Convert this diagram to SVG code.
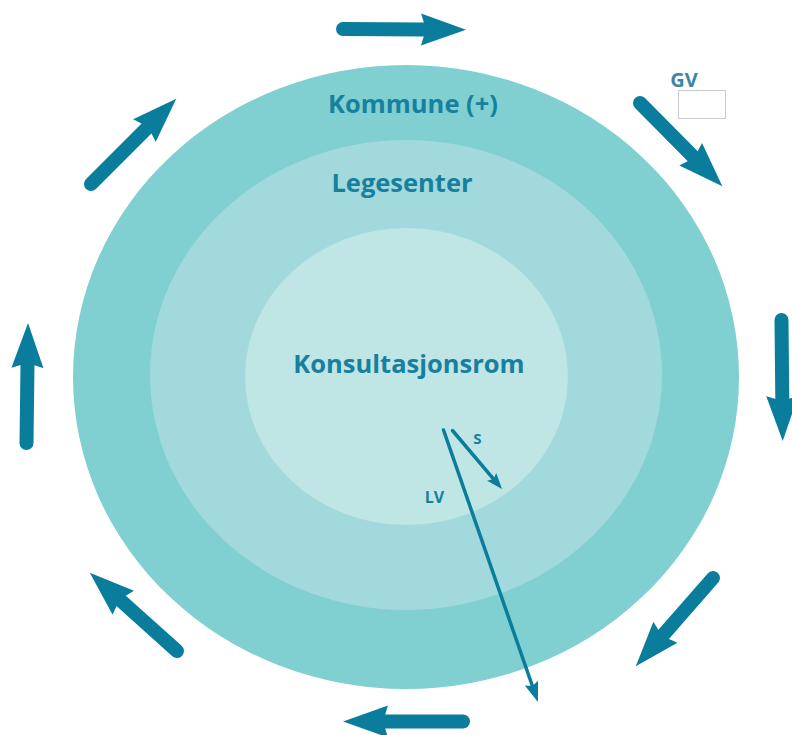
<svg xmlns="http://www.w3.org/2000/svg" width="792" height="735" viewBox="0 0 792 735">
  <style>
    .lbl { font-family: "Open Sans", "Noto Sans", sans-serif; font-weight: bold; fill: #17809f; text-anchor: middle; }
    .big { stroke: #0a7d9c; stroke-width: 14; stroke-linecap: round; fill: none; marker-end: url(#bighead); }
    .thin { stroke: #0a7d9c; stroke-width: 3.5; stroke-linecap: round; fill: none; }
  </style>
  <defs>
    <marker id="bighead" markerUnits="userSpaceOnUse" viewBox="0 -20 50 40" markerWidth="50" markerHeight="40" refX="4" refY="0" orient="auto">
      <path d="M0,-16 L45,0 L0,16 L5,0 Z" fill="#0a7d9c"/>
    </marker>
    <marker id="lvhead" markerUnits="userSpaceOnUse" viewBox="0 -10 24 20" markerWidth="24" markerHeight="20" refX="3" refY="0" orient="auto">
      <path d="M0,-7 L20,0 L0,7 L3,0 Z" fill="#0a7d9c"/>
    </marker>
    <marker id="shead" markerUnits="userSpaceOnUse" viewBox="0 -10 20 20" markerWidth="20" markerHeight="20" refX="3" refY="0" orient="auto">
      <path d="M0,-6 L16,0 L0,6 L3,0 Z" fill="#0a7d9c"/>
    </marker>
  </defs>
  <rect width="792" height="735" fill="#ffffff"/>

  <g id="kommune">
    <ellipse cx="406" cy="377" rx="333" ry="312" fill="#80cfd1"/>
    <text class="lbl" x="413" y="113" font-size="25.5">Kommune (+)</text>
  </g>
  <g id="legesenter">
    <ellipse cx="406" cy="375" rx="256" ry="235" fill="#a2d9dc"/>
    <text class="lbl" x="402" y="192" font-size="25.5">Legesenter</text>
  </g>
  <g id="konsultasjonsrom">
    <ellipse cx="406.5" cy="376.5" rx="161.5" ry="148.5" fill="#bfe5e5"/>
    <text class="lbl" x="409" y="373" font-size="25.5">Konsultasjonsrom</text>
  </g>
  <g id="gv">
    <text x="684" y="87" font-family="Open Sans, Noto Sans, sans-serif" font-weight="bold" font-size="20" fill="#3f86a6" text-anchor="middle">GV</text>
    <rect x="678.5" y="90.5" width="47" height="28" fill="#ffffff" stroke="#cccccc" stroke-width="1"/>
  </g>

  <g id="connectors">
    <line class="big" x1="343" y1="29" x2="425" y2="29.5"/>
    <line class="big" x1="640" y1="103" x2="693.5" y2="157"/>
    <line class="big" x1="781.5" y1="320" x2="782.3" y2="400"/>
    <line class="big" x1="713" y1="578" x2="662.8" y2="635.3"/>
    <line class="big" x1="463" y1="721.5" x2="384" y2="721.5"/>
    <line class="big" x1="177" y1="651" x2="120.3" y2="600.1"/>
    <line class="big" x1="26.5" y1="443" x2="27.5" y2="364"/>
    <line class="big" x1="91" y1="184" x2="147.3" y2="127.7"/>
    <line class="thin" x1="443.5" y1="430" x2="532.4" y2="686" marker-end="url(#lvhead)"/>
    <line class="thin" x1="452.5" y1="430.5" x2="493.6" y2="479.1" marker-end="url(#shead)"/>
    <text class="lbl" x="477.5" y="444" font-size="15">S</text>
    <text class="lbl" x="434.5" y="503" font-size="16">LV</text>
  </g>
</svg>
